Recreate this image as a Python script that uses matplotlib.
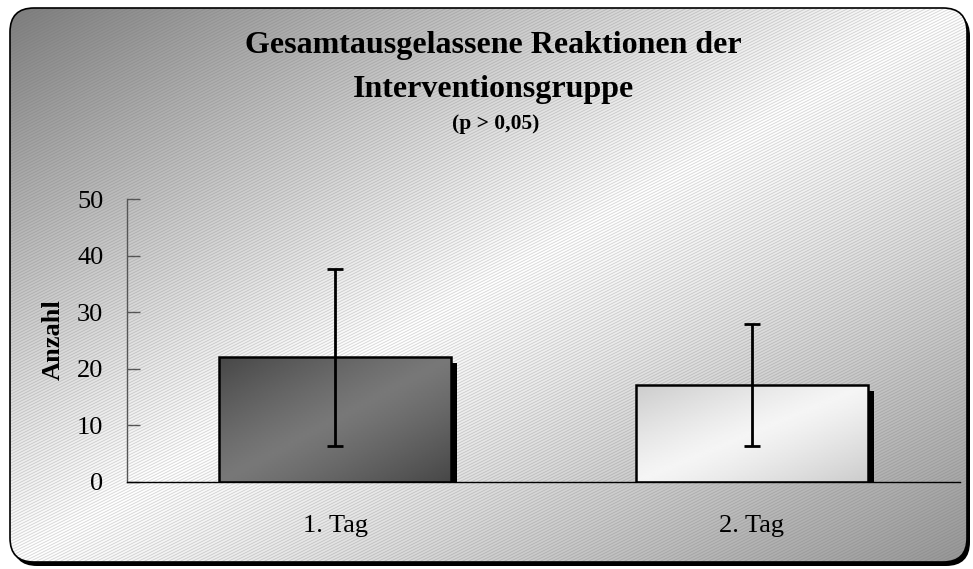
import numpy as np
import matplotlib
matplotlib.use("Agg")
import matplotlib.pyplot as plt
from matplotlib.patches import FancyBboxPatch
from matplotlib.collections import LineCollection
import matplotlib.transforms as mtransforms

# ---- data ----
categories = ["1. Tag", "2. Tag"]
means = [22.0, 17.2]
errors = [15.6, 10.8]
yticks = [0, 10, 20, 30, 40, 50]
title_lines = ["Gesamtausgelassene Reaktionen der", "Interventionsgruppe"]
subtitle = "(p > 0,05)"
ylabel = "Anzahl"

plt.rcParams['font.family'] = ['Liberation Serif', 'DejaVu Serif']

W, H = 973, 569
fig = plt.figure(figsize=(W / 100, H / 100), dpi=100)

# ---- background frame ----
bg = fig.add_axes([0, 0, 1, 1])
bg.set_xlim(0, W)
bg.set_ylim(H, 0)
bg.axis('off')

fx0, fy0, fx1, fy1 = 10, 8, 967, 562
rs = "round,pad=0,rounding_size=24"
shadow = FancyBboxPatch((fx0 + 3, fy0 + 4), fx1 - fx0, fy1 - fy0,
                        boxstyle=rs, facecolor='black', edgecolor='none', zorder=0)
bg.add_patch(shadow)
frame = FancyBboxPatch((fx0, fy0), fx1 - fx0, fy1 - fy0,
                       boxstyle=rs, facecolor='white', edgecolor='none', zorder=1)
bg.add_patch(frame)

yy, xx = np.mgrid[0:H:2, 0:W:2]
t = (xx / W + yy / H) / 2.0
d = 2 * t - 1
grad = np.where(d < 0, 1.0 - 0.52 * np.abs(d) ** 1.1, 1.0 - 0.42 * np.abs(d) ** 1.1)
im = bg.imshow(grad, cmap='gray', vmin=0, vmax=1, extent=(0, W, H, 0),
               zorder=2, interpolation='bilinear', aspect='auto')
im.set_clip_path(frame)

# fine diagonal texture
slope = 0.5
spacing = 3
offs = np.arange(0, H + W * slope + spacing, spacing) + 0.5
segs = [[(0, o), (W, o - W * slope)] for o in offs]
lc = LineCollection(segs, colors=[(0.45, 0.45, 0.45, 0.3)], linewidths=0.6,
                    zorder=3, antialiased=True)
bg.add_collection(lc)
lc.set_clip_path(frame)

border = FancyBboxPatch((fx0, fy0), fx1 - fx0, fy1 - fy0,
                        boxstyle=rs, facecolor='none', edgecolor='black',
                        linewidth=1.2, zorder=4)
bg.add_patch(border)

# ---- titles ----
fig.text(493 / W, 1 - 46 / H, title_lines[0], ha='center', va='center',
         fontsize=23, fontweight='bold')
fig.text(493 / W, 1 - 89 / H, title_lines[1], ha='center', va='center',
         fontsize=23, fontweight='bold')
fig.text(496 / W, 1 - 124 / H, subtitle, ha='center', va='center',
         fontsize=15.5, fontweight='bold')

# ---- main axes ----
ax = fig.add_axes([127 / W, 87 / H, 833 / W, 283 / H])
ax.set_zorder(2)
ax.patch.set_alpha(0)
x = np.arange(len(categories))
width = 0.556

shadow_off = mtransforms.offset_copy(ax.transData, fig=fig, x=6, y=-6, units='dots')
ax.bar(x, means, width=width, color='black', edgecolor='none',
       transform=shadow_off, zorder=1, clip_on=True)
bars = ax.bar(x, means, width=width, color='none', edgecolor='black',
              linewidth=1.8, zorder=3)

bar_grads = [(0.28, 0.47), (0.80, 0.96)]
for b, (lo, hi) in zip(bars, bar_grads):
    bx, bw, bh = b.get_x(), b.get_width(), b.get_height()
    gy, gx = np.mgrid[0:1:60j, 0:1:120j]
    tt = (gx + gy) / 2.0
    g = hi - (hi - lo) * np.abs(2 * tt - 1) ** 1.2
    bim = ax.imshow(g, cmap='gray', vmin=0, vmax=1,
                    extent=(bx, bx + bw, 0, bh), origin='upper',
                    aspect='auto', zorder=2, interpolation='bilinear')
    bim.set_clip_path(b)

ax.errorbar(x, means, yerr=errors, fmt='none', ecolor='black',
            elinewidth=2, capsize=6, capthick=2, zorder=4)

ax.set_xlim(-0.5, 1.5)
ax.set_ylim(0, 50)
ax.set_yticks(yticks)
ax.set_xticks(x)
ax.set_xticklabels(categories)
ax.tick_params(axis='y', direction='in', length=9, width=1, color='#555555',
               labelsize=19, pad=17)
ax.tick_params(axis='x', length=0, labelsize=19, pad=24)
for s in ['top', 'right']:
    ax.spines[s].set_visible(False)
ax.spines['left'].set_color('#555555')
ax.spines['bottom'].set_color('black')
ax.spines['left'].set_linewidth(1)
ax.spines['bottom'].set_linewidth(1)
ax.set_ylabel(ylabel, fontsize=19, fontweight='bold')
ax.yaxis.set_label_coords((65 - 127) / 833, (482 - 340) / 283)

fig.savefig("out.png", dpi=100)
